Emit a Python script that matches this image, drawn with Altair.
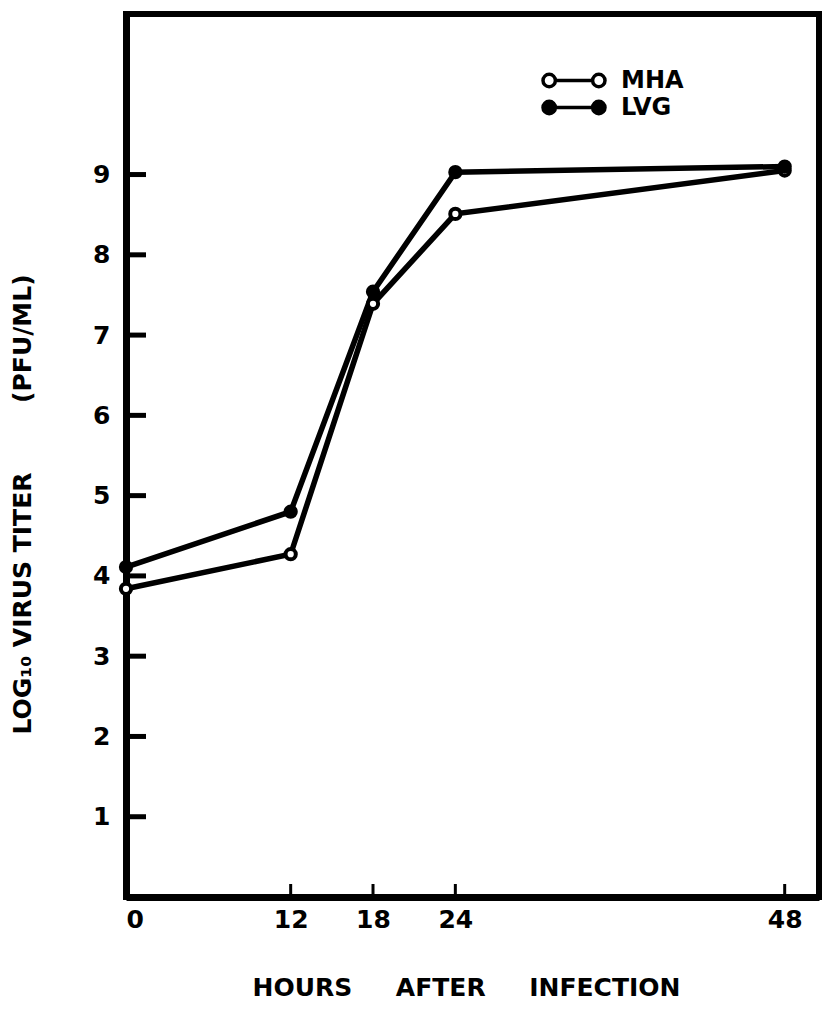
import altair as alt
import pandas as pd

# ---- data ----
hours = [0, 12, 18, 24, 48]
mha_titer = [3.84, 4.27, 7.39, 8.51, 9.05]
lvg_titer = [4.11, 4.80, 7.54, 9.03, 9.10]
series = ["MHA", "LVG"]
y_tick_values = [1, 2, 3, 4, 5, 6, 7, 8, 9]
x_label_values = [0, 12, 18, 24, 48]
x_tick_values = [12, 18, 24, 48]

NB = "\u00a0"
x_title = "HOURS" + NB * 5 + "AFTER" + NB * 5 + "INFECTION"
y_title = "LOG\u2081\u2080" + NB + "VIRUS" + NB + "TITER" + NB * 8 + "(PFU/ML)"

df = pd.DataFrame({
    "hours": hours * 2,
    "titer": mha_titer + lvg_titer,
    "virus": ["MHA"] * len(hours) + ["LVG"] * len(hours),
})
ytick_df = pd.DataFrame({"titer": y_tick_values})
xtick_df = pd.DataFrame({"hours": x_tick_values})

W, H = 693, 883
FONT = "DejaVu Sans"

xscale = alt.Scale(domain=[0, 50.5], nice=False, zero=False)
yscale = alt.Scale(domain=[0, 11], nice=False, zero=False)

x_enc = alt.X("hours:Q", scale=xscale, axis=alt.Axis(
    values=x_label_values, title=x_title, labelPadding=10, format="d",
    titleX=340, titleY=90, titleBaseline="middle"))
y_enc = alt.Y("titer:Q", scale=yscale, axis=alt.Axis(
    values=y_tick_values, title=y_title, labelPadding=16, format="d",
    titleX=-104, titleY=490, titleBaseline="middle"))

legend_path = ("M -1 0 A 0.2 0.2 0 1 0 -0.6 0 A 0.2 0.2 0 1 0 -1 0 Z "
               "M 0.6 0 A 0.2 0.2 0 1 0 1 0 A 0.2 0.2 0 1 0 0.6 0 Z "
               "M -0.6 0 L 0.6 0")

lines = alt.Chart(df).mark_line(color="black", strokeWidth=5.5).encode(
    x=x_enc, y=y_enc, detail="virus:N")

points = alt.Chart(df).mark_point(
    filled=True, stroke="black", strokeWidth=4, opacity=1, fillOpacity=1, size=105
).encode(
    x=alt.X("hours:Q", scale=xscale),
    y=alt.Y("titer:Q", scale=yscale),
    fill=alt.Fill("virus:N", scale=alt.Scale(domain=series, range=["white", "black"]),
                  legend=alt.Legend(
                      orient="none", legendX=415, legendY=53, title="",
                      symbolType=legend_path, symbolSize=3844,
                      symbolStrokeColor="black", symbolStrokeWidth=3.5,
                      labelFont=FONT, labelFontWeight="bold", labelFontSize=24,
                      labelColor="black", labelOffset=14, clipHeight=27,
                      rowPadding=0, padding=0)),
)

yticks = alt.Chart(ytick_df).mark_rule(color="black", strokeWidth=5).encode(
    y=alt.Y("titer:Q", scale=yscale),
    x=alt.value(0), x2=alt.value(20))

xticks = alt.Chart(xtick_df).mark_rule(color="black", strokeWidth=3).encode(
    x=alt.X("hours:Q", scale=xscale),
    y=alt.value(H), y2=alt.value(H - 13))

chart = alt.layer(lines, yticks, xticks, points).properties(
    width=W, height=H,
    background="white",
    padding={"left": 126, "top": 14, "right": 3, "bottom": 113},
    autosize=alt.AutoSizeParams(type="none"),
).configure_view(
    stroke="black", strokeWidth=6
).configure_axis(
    domainColor="black", domainWidth=7, grid=False, ticks=False,
    labelFont=FONT, labelFontWeight="bold", labelFontSize=25, labelColor="black",
    titleFont=FONT, titleFontWeight="bold", titleFontSize=25, titleColor="black",
)

chart.save("out.html", embed_options={"renderer": "svg", "actions": False})
